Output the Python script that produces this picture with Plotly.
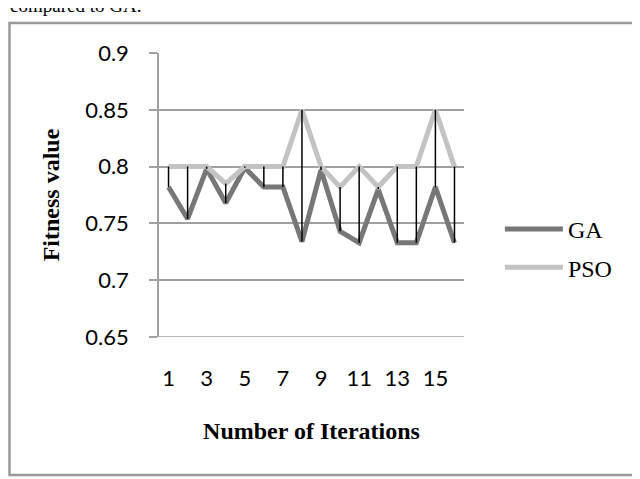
import plotly.graph_objects as go

iterations = list(range(1, 17))
ga_values = [0.782, 0.754, 0.798, 0.768, 0.799, 0.782, 0.782, 0.734,
             0.797, 0.743, 0.733, 0.780, 0.733, 0.733, 0.782, 0.733]
pso_values = [0.800, 0.800, 0.800, 0.785, 0.800, 0.800, 0.800, 0.850,
              0.800, 0.782, 0.800, 0.782, 0.800, 0.800, 0.850, 0.800]
x_tick_labels = ["1", "3", "5", "7", "9", "11", "13", "15"]
x_tick_vals = [1, 3, 5, 7, 9, 11, 13, 15]

# high-low lines built from the data
hl_x, hl_y = [], []
for x, g, p in zip(iterations, ga_values, pso_values):
    hl_x += [x, x, None]
    hl_y += [min(g, p), max(g, p), None]

fig = go.Figure()
fig.add_trace(go.Scatter(x=iterations, y=ga_values, mode="lines", name="GA",
                         line=dict(color="#777777", width=5),
                         legendgroup="a"))
fig.add_trace(go.Scatter(x=iterations, y=pso_values, mode="lines", name="PSO",
                         line=dict(color="#c3c3c3", width=5),
                         legendgroup="b"))
fig.add_trace(go.Scatter(x=hl_x, y=hl_y, mode="lines", showlegend=False,
                         line=dict(color="#000000", width=1.5),
                         hoverinfo="skip"))

# page has an 8px body margin; figure coords = reference coords - 8
W, H = 632, 471
L, R, T, B = 151, 176, 45, 142
PW, PH = W - L - R, H - T - B


def px(xref):
    return (xref - 8 - L) / PW


def py(yref):
    return (H - B - (yref - 8)) / PH


fig.update_layout(
    width=W, height=H,
    margin=dict(l=L, r=R, t=T, b=B),
    paper_bgcolor="white", plot_bgcolor="white",
    showlegend=True,
    legend=dict(x=px(506) - 0.02, y=py(207), xanchor="left", yanchor="top",
                font=dict(family="Liberation Serif", size=24, color="#000"),
                itemwidth=58, traceorder="grouped", tracegroupgap=4,
                bgcolor="rgba(0,0,0,0)"),
    xaxis=dict(range=[0.5, 16.5], tickvals=x_tick_vals, ticktext=x_tick_labels,
               showgrid=False, zeroline=False, showline=False, ticks="",
               tickfont=dict(family="Lato", size=22, color="#000"),
               ticklabelstandoff=26,
               title=dict(text="<b>Number of Iterations</b>",
                          font=dict(family="Liberation Serif", size=24, color="#000"),
                          standoff=32)),
    yaxis=dict(range=[0.65, 0.9], dtick=0.05, tick0=0.65,
               showgrid=True, gridcolor="#a0a0a0", gridwidth=1.5,
               zeroline=False, showline=True, linecolor="#a0a0a0", linewidth=1.5,
               ticks="outside", ticklen=8, tickcolor="#a0a0a0", tickwidth=1.5,
               tickfont=dict(family="Lato", size=22, color="#000"),
               ticklabelstandoff=16,
               title=dict(text="<b>Fitness value</b>",
                          font=dict(family="Liberation Serif", size=24, color="#000"),
                          standoff=19)),
    shapes=[dict(type="rect", xref="paper", yref="paper",
                 x0=px(9.5), x1=px(636),
                 y0=py(475), y1=py(23),
                 line=dict(color="#9a9a9a", width=2.5), layer="below"),
            dict(type="line", xref="paper", yref="y",
                 x0=px(151), x1=1, y0=0.65, y1=0.65,
                 line=dict(color="#a0a0a0", width=1.5), layer="below")],
    annotations=[dict(text="compared to GA.", xref="paper", yref="paper",
                      x=px(8), y=py(18),
                      xanchor="left", yanchor="bottom", showarrow=False,
                      font=dict(family="Liberation Serif", size=19, color="#000"))],
)

fig.write_html("out.html")
